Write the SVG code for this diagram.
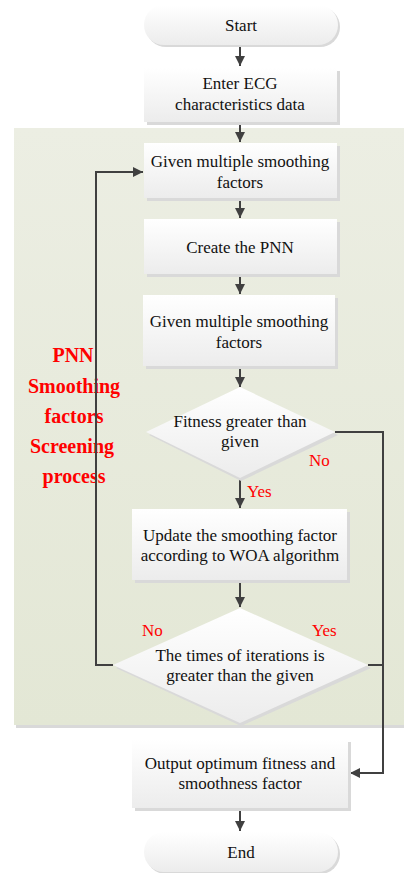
<svg xmlns="http://www.w3.org/2000/svg" width="404" height="873" viewBox="0 0 404 873">
<defs>
<linearGradient id="gBox" x1="0" y1="0" x2="0" y2="1">
<stop offset="0" stop-color="#ffffff"/>
<stop offset="1" stop-color="#ececec"/>
</linearGradient>
<linearGradient id="gBg" x1="0" y1="0" x2="0" y2="1">
<stop offset="0" stop-color="#eceee3"/>
<stop offset="1" stop-color="#e3e7d5"/>
</linearGradient>
<marker id="ah" viewBox="0 0 10 10" refX="10" refY="5" markerWidth="10" markerHeight="10" markerUnits="userSpaceOnUse" orient="auto">
<path d="M0,0 L10,5 L0,10 Z" fill="#404040"/>
</marker>
</defs>
<style>
.box{fill:url(#gBox);}
.shadow{fill:#d9d9d9;}
.t{font-family:"Liberation Serif","Times New Roman",serif;font-size:17px;fill:#111;text-anchor:middle;}
.lbl{font-family:"Liberation Serif","Times New Roman",serif;font-size:17px;fill:#ff0000;}
.big{font-family:"Liberation Serif","Times New Roman",serif;font-size:20px;font-weight:bold;fill:#ff0000;text-anchor:middle;}
.c{fill:none;stroke:#404040;stroke-width:2;}
</style>

<g id="background">
<rect x="16" y="131" width="390" height="597" class="shadow"/>
<rect x="14" y="128" width="392" height="597" fill="url(#gBg)"/>
</g>

<g id="note">
<text class="big" x="73" y="362">PNN</text>
<text class="big" x="74" y="393">Smoothing</text>
<text class="big" x="74" y="423">factors</text>
<text class="big" x="72" y="453">Screening</text>
<text class="big" x="74" y="483">process</text>
</g>

<g id="connectors">
<line class="c" x1="240" y1="47" x2="240" y2="66" marker-end="url(#ah)"/>
<line class="c" x1="240" y1="124" x2="240" y2="142" marker-end="url(#ah)"/>
<line class="c" x1="240" y1="201" x2="240" y2="218" marker-end="url(#ah)"/>
<line class="c" x1="240" y1="277" x2="240" y2="294" marker-end="url(#ah)"/>
<line class="c" x1="240" y1="369" x2="240" y2="387" marker-end="url(#ah)"/>
<line class="c" x1="240" y1="478" x2="240" y2="508" marker-end="url(#ah)"/>
<line class="c" x1="240" y1="583" x2="240" y2="607" marker-end="url(#ah)"/>
<line class="c" x1="240" y1="811" x2="240" y2="831" marker-end="url(#ah)"/>
<polyline class="c" points="335,432 383,432 383,773 350,773" marker-end="url(#ah)"/>
<polyline class="c" points="368,665 383,665"/>
<polyline class="c" points="113,665 96,665 96,172 143,172" marker-end="url(#ah)"/>
</g>

<g id="start">
<rect x="146" y="7" width="194" height="40" rx="20" class="shadow"/>
<rect x="144" y="5" width="194" height="40" rx="20" class="box"/>
<text class="t" x="241" y="31">Start</text>
</g>

<g id="enter">
<rect x="147" y="71" width="193" height="54" class="shadow"/>
<rect x="144" y="68" width="193" height="54" class="box"/>
<text class="t" x="240" y="89">Enter ECG</text>
<text class="t" x="240" y="110">characteristics data</text>
</g>

<g id="given1">
<rect x="147" y="146" width="193" height="55" class="shadow"/>
<rect x="144" y="143" width="193" height="55" class="box"/>
<text class="t" x="240" y="167">Given multiple smoothing</text>
<text class="t" x="240" y="188">factors</text>
</g>

<g id="create">
<rect x="147" y="222" width="193" height="55" class="shadow"/>
<rect x="144" y="219" width="193" height="55" class="box"/>
<text class="t" x="240" y="253">Create the PNN</text>
</g>

<g id="given2">
<rect x="146" y="298" width="192" height="71" class="shadow"/>
<rect x="143" y="295" width="192" height="71" class="box"/>
<text class="t" x="239" y="327">Given multiple smoothing</text>
<text class="t" x="239" y="348">factors</text>
</g>

<g id="fitness">
<polygon points="241,390 338,435 241,481 149,435" class="shadow"/>
<polygon points="240,387 335,432 240,478 146,432" class="box"/>
<text class="t" x="240" y="427">Fitness greater than</text>
<text class="t" x="240" y="447">given</text>
<text class="lbl" x="309" y="466">No</text>
<text class="lbl" x="247" y="497">Yes</text>
</g>

<g id="update">
<rect x="135" y="512" width="215" height="71" class="shadow"/>
<rect x="132" y="509" width="215" height="71" class="box"/>
<text class="t" x="240" y="541">Update the smoothing factor</text>
<text class="t" x="240" y="561">according to WOA algorithm</text>
</g>

<g id="iterations">
<polygon points="241,611 371,668 241,726 116,668" class="shadow"/>
<polygon points="240,608 368,665 240,723 113,665" class="box"/>
<text class="t" x="240" y="661">The times of iterations is</text>
<text class="t" x="240" y="681">greater than the given</text>
<text class="lbl" x="142" y="636">No</text>
<text class="lbl" x="312" y="636">Yes</text>
</g>

<g id="output">
<rect x="135" y="742" width="216" height="69" class="shadow"/>
<rect x="132" y="739" width="216" height="69" class="box"/>
<text class="t" x="240" y="769">Output optimum fitness and</text>
<text class="t" x="240" y="789">smoothness factor</text>
</g>

<g id="end">
<rect x="146" y="834" width="194" height="40" rx="20" class="shadow"/>
<rect x="144" y="832" width="194" height="40" rx="20" class="box"/>
<text class="t" x="241" y="858">End</text>
</g>
</svg>
